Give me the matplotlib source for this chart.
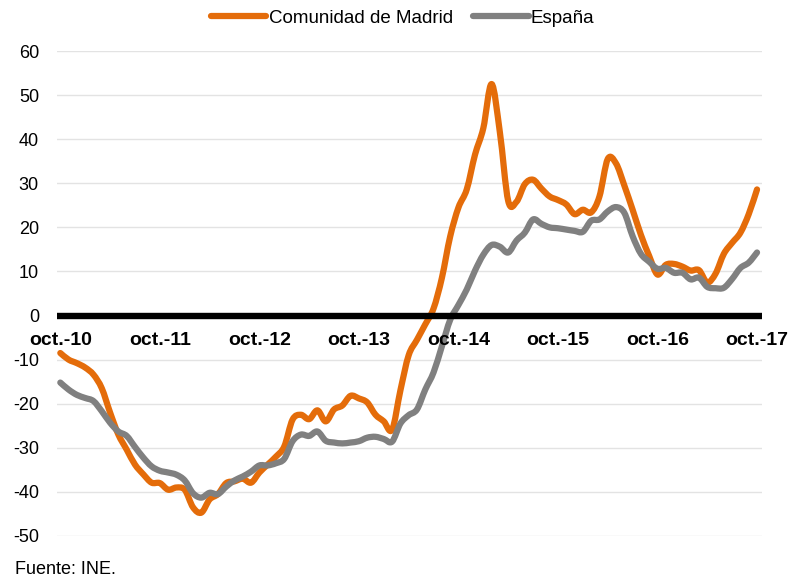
import matplotlib
matplotlib.use("Agg")
import matplotlib.pyplot as plt
from matplotlib.path import Path
from matplotlib.patches import PathPatch
import numpy as np

plt.rcParams['font.family'] = ['Liberation Sans', 'DejaVu Sans']
plt.rcParams['axes.unicode_minus'] = False

# monthly values, oct-10 .. oct-17
madrid = [-8.5, -10, -10.8, -11.8, -13.4, -16.5, -22, -27, -30.4, -33.8,
          -36, -37.9, -38, -39.5, -39, -39.5, -43.5, -44.7, -41.7, -40.5,
          -38, -37.6, -37, -37.9, -35.6, -33.8, -32, -29.7, -23.6, -22.5,
          -23.5, -21.5, -24, -21.3, -20.4, -18.2, -18.8, -19.7, -22.5, -24,
          -25.9, -17, -9, -5.5, -2, 1.6, 8.5, 17.9, 24.5, 28.6,
          36.5, 42.5, 52.5, 41.5, 26, 25.8, 29.8, 30.8, 28.8, 27,
          26.2, 25.2, 23, 24, 23.4, 27, 35.5, 34.5, 29.5, 24,
          18.3, 13.5, 9.3, 11.5, 11.7, 11.1, 10.2, 10.3, 7.5, 9.5,
          14, 16.5, 18.8, 23, 28.6]
espana = [-15.2, -16.8, -18, -18.7, -19.4, -21.7, -24.3, -26.3, -27.3, -29.8,
          -32.2, -34.2, -35.2, -35.6, -36.1, -37.4, -40.3, -41.3, -40.2, -40.5,
          -38.8, -37.4, -36.5, -35.4, -34, -34, -33.5, -32.5, -28.5, -27,
          -27.3, -26.3, -28.4, -28.8, -29, -28.8, -28.5, -27.7, -27.5, -28,
          -28.6, -24.5, -22.6, -21.3, -16.8, -12.9, -7, -1, 2.4, 5.9,
          10.2, 13.8, 16, 15.6, 14.3, 17, 18.8, 21.8, 20.8, 20,
          19.8, 19.5, 19.2, 19, 21.5, 21.8, 23.6, 24.6, 23.3, 18,
          14, 12.2, 10.6, 10.8, 9.7, 9.7, 8.2, 8.6, 6.5, 6.2,
          6.3, 8.3, 10.8, 12, 14.3]
xlabels = ['oct.-10', 'oct.-11', 'oct.-12', 'oct.-13', 'oct.-14', 'oct.-15', 'oct.-16', 'oct.-17']

months = np.arange(len(madrid))


def smooth_path(x, y):
    # excel-like smoothed line: catmull-rom segments as cubic beziers
    pts = np.column_stack([x, y]).astype(float)
    p = np.vstack([pts[0], pts, pts[-1]])
    verts = [pts[0]]
    codes = [Path.MOVETO]
    for i in range(1, len(p) - 2):
        c1 = p[i] + (p[i + 1] - p[i - 1]) / 6
        c2 = p[i + 1] - (p[i + 2] - p[i]) / 6
        verts += [c1, c2, p[i + 1]]
        codes += [Path.CURVE4] * 3
    return Path(verts, codes)


fig = plt.figure(figsize=(7.98, 5.78), dpi=100)
ax = fig.add_axes([57/798, 1 - 536/578, (762-57)/798, (536-51)/578])

for vals, col, name in [(madrid, '#E46C0A', 'Comunidad de Madrid'),
                        (espana, '#808080', 'España')]:
    ax.add_patch(PathPatch(smooth_path(months, vals), fill=False, edgecolor=col,
                           lw=4.5, joinstyle='round', capstyle='round', zorder=3))
    ax.plot([], [], color=col, lw=4.5, solid_capstyle='round', label=name)
ax.axhline(0, color='black', lw=4.6, zorder=4)

ax.set_xlim(-0.4, 84.6)
ax.set_ylim(-50, 60)
ax.set_yticks(np.arange(-50, 61, 10))
ax.yaxis.grid(True, color='#e3e3e3', lw=1)
ax.set_axisbelow(True)
for s in ax.spines.values():
    s.set_visible(False)
ax.set_xticks([])
ax.tick_params(axis='y', length=0, labelsize=13, pad=13)

for k, lab in enumerate(xlabels):
    ax.text(k * 12, -5.7, lab, ha='center', va='center', fontsize=14,
            fontweight='bold', clip_on=False)

fig.legend(loc='center left', bbox_to_anchor=(211/798, 1 - 18/578), ncol=2,
           frameon=False, fontsize=13.5, handlelength=2.95, handletextpad=0.12,
           columnspacing=1.1, borderpad=0, borderaxespad=0)

fig.text(15/798, 1 - 569/578, 'Fuente: INE.', fontsize=13, va='center', ha='left')

fig.savefig('out.png', dpi=100)
